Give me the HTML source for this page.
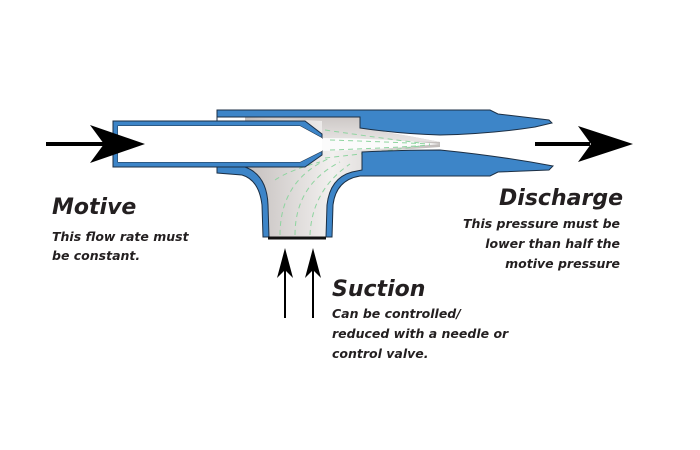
<!DOCTYPE html>
<html><head><meta charset="utf-8"><style>
html,body{margin:0;padding:0;background:#fff;}
svg{display:block}
text{font-family:"DejaVu Sans","Liberation Sans",sans-serif;font-weight:bold;font-style:italic;fill:#231f20}
</style></head><body>
<svg width="700" height="450" viewBox="0 0 700 450" xmlns="http://www.w3.org/2000/svg">
<defs>
<linearGradient id="g" x1="0" x2="1" y1="0" y2="0">
<stop offset="0" stop-color="#c4bfbd"/><stop offset="0.45" stop-color="#f2f0ef"/><stop offset="1" stop-color="#c0bbb9"/>
</linearGradient>
<linearGradient id="gv" x1="0" x2="0" y1="0" y2="1">
<stop offset="0" stop-color="#cdc8c6"/><stop offset="1" stop-color="#e8e5e4"/>
</linearGradient>
</defs>
<!-- gray region -->
<path d="M245 117 L360 117 L360 128 Q400 134 440 142 L440 147 Q400 150 362 152 L362 170 Q330 176 327 205 L326 237 L268 237 L268 205 Q266 175 245 167 Z" fill="url(#g)"/>
<path d="M245 117 L360 117 L360 128 Q400 134 440 142 L322 140 L322 121 Z" fill="url(#gv)"/>
<!-- white jet -->
<path d="M322 138 Q380 138 440 144 Q380 150 322 151 Z" fill="#fbfbfb"/>
<!-- green dashed flow -->
<g stroke="#8fd4a0" stroke-width="1" stroke-dasharray="5,4" fill="none">
<path d="M330 140 Q390 142 430 144"/><path d="M330 150 Q390 148 430 145"/>
<path d="M325 130 Q380 138 420 143"/><path d="M325 158 Q380 152 420 146"/>
<path d="M280 235 Q280 180 330 158"/><path d="M295 235 Q295 185 340 162"/><path d="M310 235 Q312 190 350 164"/>
<path d="M275 180 Q290 170 320 162"/>
</g>
<!-- body top -->
<path d="M217 110 L490 110 L498 114 L549 120 L552 123 L535 127 Q490 134 440 135 Q400 134 360 128 L360 117 L217 117 Z" fill="#3d85c8" stroke="#1c2f44" stroke-width="1"/>
<!-- left suction wall -->
<path d="M217 167 L245 167 Q267 175 268 205 L269 237 L263 237 L262 205 Q259 180 242 175 L217 173 Z" fill="#3d85c8" stroke="#1c2f44" stroke-width="1"/>
<!-- right suction wall + diffuser bottom -->
<path d="M326 237 L327 205 Q330 178 352 172 L362 170 L362 152 Q400 150 440 150 Q500 156 553 166 L549 170 L498 172 L490 176 L360 176 Q336 180 333 205 L332 237 Z" fill="#3d85c8" stroke="#1c2f44" stroke-width="1"/>
<line x1="217" y1="110" x2="217" y2="173" stroke="#1c2f44" stroke-width="1"/>
<!-- motive pipe -->
<path d="M113 121 L305 121 L322 134 L322 138 L300 126 L118 126 L118 162 L300 162 L322 151 L322 155 L305 167 L113 167 Z" fill="#3d85c8" stroke="#1c2f44" stroke-width="1"/>
<path d="M118 126 L300 126 L322 138 L322 151 L300 162 L118 162 Z" fill="#fff"/>
<!-- suction bottom edge -->
<line x1="268" y1="238" x2="326" y2="238" stroke="#111" stroke-width="3"/>
<!-- motive arrow -->
<line x1="46" y1="144" x2="110" y2="144" stroke="#000" stroke-width="4"/>
<path d="M90 125 L145 144 L90 163 L104 144 Z" fill="#000"/>
<!-- discharge arrow -->
<line x1="535" y1="144" x2="590" y2="144" stroke="#000" stroke-width="4"/>
<path d="M578 126 L633 144 L578 162 L591 144 Z" fill="#000"/>
<!-- suction arrows -->
<g stroke="#000" stroke-width="2"><line x1="285" y1="318" x2="285" y2="260"/><line x1="313" y1="318" x2="313" y2="260"/></g>
<path d="M277 278 L285 248 L293 278 L285 270 Z" fill="#000"/>
<path d="M305 278 L313 248 L321 278 L313 270 Z" fill="#000"/>
<!-- text -->
<text x="52" y="214" font-size="22">Motive</text>
<text x="52" y="241" font-size="12.5">This flow rate must</text>
<text x="52" y="260" font-size="12.5">be constant.</text>
<text x="623" y="205" font-size="22" text-anchor="end">Discharge</text>
<text x="620" y="228" font-size="12.5" text-anchor="end">This  pressure must be</text>
<text x="620" y="248" font-size="12.5" text-anchor="end">lower than half the</text>
<text x="620" y="268" font-size="12.5" text-anchor="end">motive pressure</text>
<text x="332" y="296" font-size="22">Suction</text>
<text x="332" y="318" font-size="12.5">Can be  controlled/</text>
<text x="332" y="338" font-size="12.5">reduced with a needle or</text>
<text x="332" y="358" font-size="12.5">control valve.</text>
</svg>
</body></html>
